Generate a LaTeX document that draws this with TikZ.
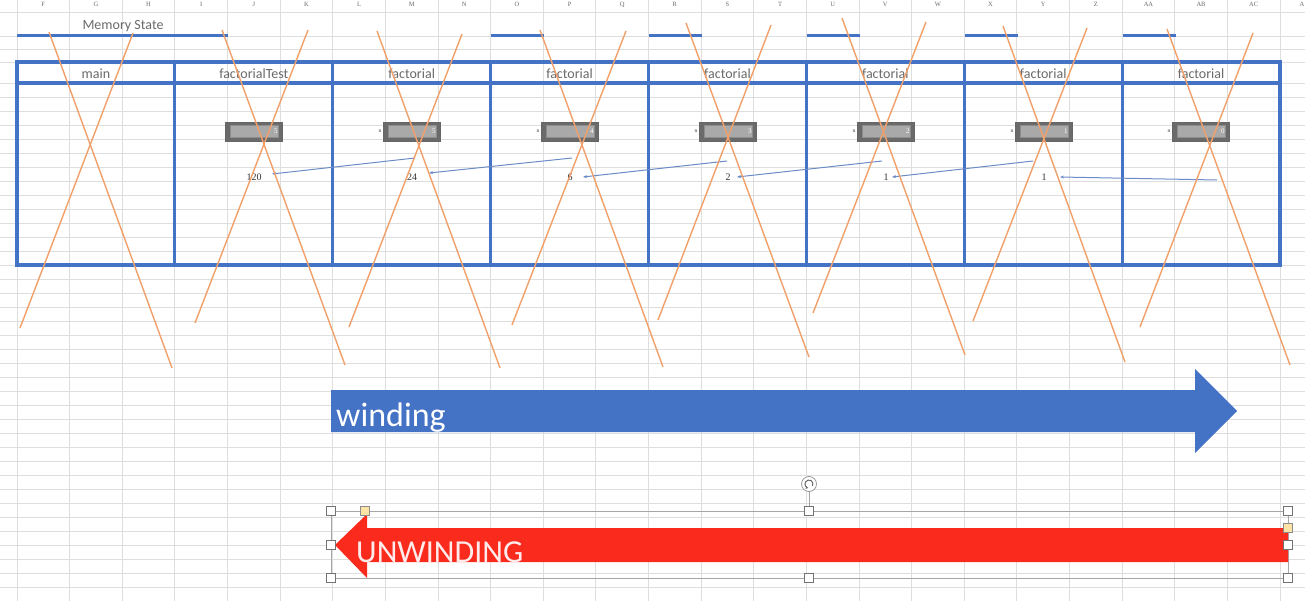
\documentclass[tikz,border=0pt]{standalone}
\usepackage{fontspec}
\setmainfont{Carlito}
\newfontfamily\numfont{Liberation Serif}
\usetikzlibrary{arrows.meta}
\definecolor{oblue}{HTML}{4472C4}
\definecolor{xorange}{HTML}{F2A06A}
\definecolor{gridc}{HTML}{DEDEDE}
\definecolor{ared}{HTML}{FA2A1C}
\definecolor{linkc}{HTML}{6C8CC8}
\definecolor{labgray}{HTML}{6A6A6A}
\definecolor{boxdark}{HTML}{6A6A6A}
\definecolor{boxlight}{HTML}{A9A9A9}
\definecolor{hyellow}{HTML}{FCE3A6}
\tikzset{
  gridline/.style={draw=gridc, line width=0.8pt},
  colhdr/.style={font=\numfont\fontsize{6.5}{7}\selectfont, text=labgray, inner sep=0pt},
  framebox/.style={draw=oblue, line width=3.2pt},
  frametitle/.style={font=\fontsize{14}{16}\selectfont, text=labgray, inner sep=0pt},
  uline/.style={draw=oblue, line width=3pt},
  outerbox/.style={draw=black!60, fill=boxdark, line width=0.8pt, minimum width=57pt, minimum height=19pt, inner sep=0pt},
  innerbox/.style={draw=black!45, fill=boxlight, line width=0.6pt, minimum width=48pt, minimum height=12pt, inner sep=0pt},
  valtxt/.style={font=\numfont\fontsize{7}{8}\selectfont, text=white, inner sep=0pt},
  nlab/.style={font=\numfont\fontsize{5.5}{6}\selectfont, text=black!80, inner sep=0pt},
  restxt/.style={font=\numfont\fontsize{10}{12}\selectfont, text=black!80, inner sep=0pt},
  link/.style={draw=linkc, line width=1pt, -{Stealth[length=4pt,width=3pt]}},
  cross/.style={draw=xorange, line width=1.4pt},
  selline/.style={draw=black!35, line width=0.9pt},
  handle/.style={draw=black!55, fill=white, line width=0.6pt, minimum size=9pt, inner sep=0pt},
  yhandle/.style={draw=black!45, fill=hyellow, line width=0.6pt, minimum size=9pt, inner sep=0pt},
}
\begin{document}
\begin{tikzpicture}[x=1pt,y=-1pt]
\useasboundingbox (0,0) rectangle (1305,601);
\fill[white] (0,0) rectangle (1305,601);
% spreadsheet grid
\foreach \i in {0,...,24} \draw[gridline] ({17+52.625*\i},0) -- ({17+52.625*\i},601);
\foreach \yy in {12,36,49,62,83} \draw[gridline] (0,\yy) -- (1305,\yy);
\foreach \k in {1,...,37} \draw[gridline] (0,{83+14*\k}) -- (1305,{83+14*\k});
\foreach \l [count=\i from 0] in {F,G,H,I,J,K,L,M,N,O,P,Q,R,S,T,U,V,W,X,Y,Z,AA,AB,AC}
  \node[colhdr] (col\i) at ({43.3+52.625*\i},4.5) {\l};
\node[colhdr] (colAD) at (1302,4.5) {A};
% memory state
\node[frametitle] (mstate) at (123,26) {Memory State};
\draw[uline] (17,36) -- (228,36);
\foreach \xx in {491,649,807,965,1123} \draw[uline] (\xx,36) -- ({\xx+52.6},36);
% frames
\draw[framebox] (17,62) rectangle (1280,265);
\draw[framebox] (17,83) -- (1280,83);
\foreach \i in {1,...,7} \draw[framebox] ({17+157.875*\i},62) -- ({17+157.875*\i},265);
\node[frametitle] (t0) at ({17+157.875*0.5},74) {main};
\node[frametitle] (t1) at ({17+157.875*1.5},74) {factorialTest};
\foreach \i in {2,...,7} \node[frametitle] (t\i) at ({17+157.875*(\i+0.5)},74) {factorial};
% variable boxes
\foreach \i/\v/\cx in {1/5/254, 2/5/412, 3/4/570, 4/3/728, 5/2/886, 6/1/1044, 7/0/1201} {
  \node[outerbox] (b\i) at (\cx,131.5) {};
  \node[innerbox] (bi\i) at (b\i) {};
  \node[valtxt, anchor=east] (bv\i) at ([xshift=-5pt]b\i.east) {\v};
}
\foreach \i in {2,...,7} \node[nlab, anchor=east] (bn\i) at ([xshift=-1.5pt]b\i.west) {n};
% results
\node[restxt] (r1) at (254,177) {120};
\node[restxt] (r2) at (412,177) {24};
\node[restxt] (r3) at (570,177) {6};
\node[restxt] (r4) at (728,177) {2};
\node[restxt] (r5) at (886,177) {1};
\node[restxt] (r6) at (1044,177) {1};
\coordinate (s1) at (415,158);
\coordinate (s2) at (572,158);
\coordinate (s3) at (727,161);
\coordinate (s4) at (882,161);
\coordinate (s5) at (1033,161);
\coordinate (s6) at (1217,180);
\coordinate (e1) at (272,174);
\coordinate (e2) at (429,173);
\coordinate (e3) at (583,177);
\coordinate (e4) at (737,177);
\coordinate (e5) at (892,177);
\coordinate (e6) at (1060,177);
\foreach \i in {1,...,6} \draw[link] (s\i) -- (e\i);
% orange crosses
\foreach \ax/\ay/\bx/\by/\cx/\cy/\dx/\dy in {
  49/32/172/368/133/33/20/328,
  222/30/345/365/308/30/195/323,
  377/31/500/368/462/34/349/327,
  540/30/663/367/626/31/512/325,
  686/23/809/357/771/25/658/320,
  842/18/965/355/926/22/813/313,
  1003/26/1125/362/1087/28/973/321,
  1167/29/1290/365/1253/33/1140/327} {
  \draw[cross] (\ax,\ay) -- (\bx,\by);
  \draw[cross] (\cx,\cy) -- (\dx,\dy);
}
% winding arrow
\fill[oblue] (331,390) -- (1195,390) -- (1195,369) -- (1237,411) -- (1195,453) -- (1195,432) -- (331,432) -- cycle;
\node[font=\fontsize{34}{36}\selectfont, text=white, anchor=base west, inner sep=0pt] (wind) at (336,426) {winding};
% selection frame
\draw[selline] (331,511) rectangle (1288,578);
\draw[selline] (809,491.5) -- (809,511);
% unwinding arrow
\fill[ared] (1288,528) -- (367,528) -- (367,514) -- (335,545) -- (367,578) -- (367,562) -- (1288,562) -- cycle;
\node[font=\fontsize{32}{34}\selectfont, text=red!8, anchor=base west, inner sep=0pt] (unwind) at (356,562) {UNWINDING};
% handles
\node[handle] (h1) at (331,511) {};
\node[handle] (h2) at (331,545) {};
\node[handle] (h3) at (331,578) {};
\node[handle] (h4) at (809,511) {};
\node[handle] (h5) at (809,578) {};
\node[handle] (h6) at (1288,511) {};
\node[handle] (h7) at (1288,545) {};
\node[handle] (h8) at (1288,578) {};
\node[yhandle] (y1) at (365,511) {};
\node[yhandle] (y2) at (1288,528) {};
\node[circle, draw=black!40, fill=white, line width=0.8pt, minimum size=15pt, inner sep=0pt] (rot) at (809,484) {};
\draw[black!60, line width=1pt, -{Stealth[length=2.8pt,width=2.8pt]}] ([shift={(-30:4pt)}]rot.center) arc[start angle=-30, end angle=260, radius=4pt];
\end{tikzpicture}
\end{document}
